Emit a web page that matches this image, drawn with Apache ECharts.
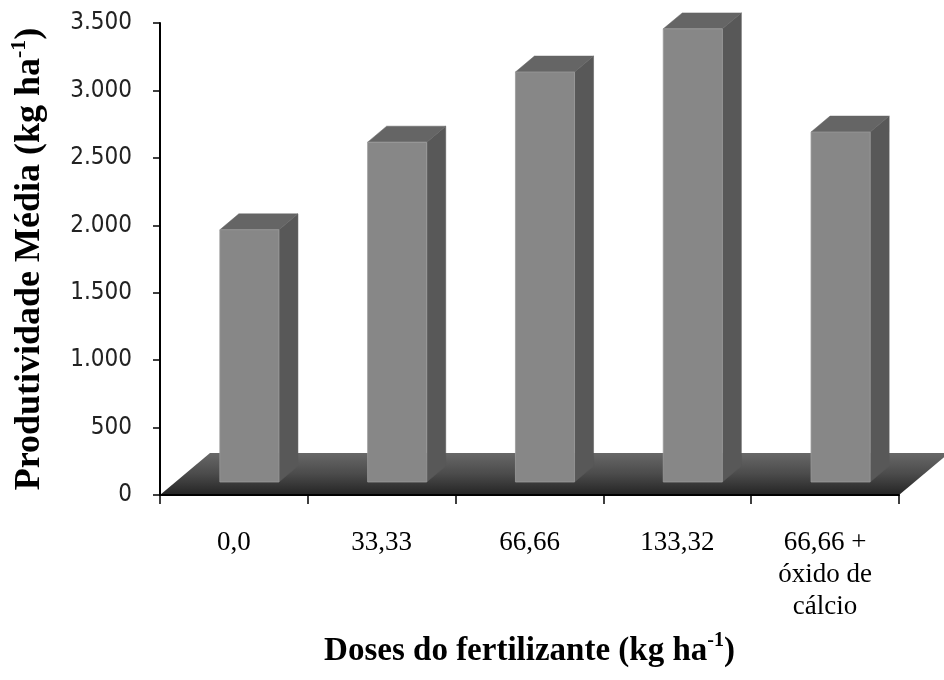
<!DOCTYPE html>
<html>
<head>
<meta charset="utf-8">
<script src="https://cdn.jsdelivr.net/npm/echarts@6/dist/echarts.min.js"></script>
<style>
  html, body { margin: 0; padding: 0; background: #ffffff; }
  #chart { width: 944px; height: 680px; }
</style>
</head>
<body>
<div id="chart"></div>
<script>
// Fertilizer doses (kg/ha) and mean yield (kg/ha)
const categories = ['0,0', '33,33', '66,66', '133,32', '66,66 +\nóxido de\ncálcio'];
const productivity = [1870, 2520, 3040, 3360, 2595];
const yMin = 0;
const yMax = 3500;
const yStep = 500;

// Pseudo-3D look: floor depth and where the columns sit inside it
const FLOOR_DX = 50, FLOOR_DY = -42;
const COL_FRONT = 0.31, COL_BACK = 0.69;
const COL_WIDTH = 0.4; // fraction of the category band

const serif = "'Liberation Serif', 'Times New Roman', serif";
const sansCond = "'DejaVu Sans Condensed', 'DejaVu Sans', sans-serif";

function thousands(v) {
  return String(v).replace(/\B(?=(\d{3})+(?!\d))/g, '.');
}

function renderFloor(params, api) {
  const cs = params.coordSys;
  const y0 = api.coord([0, 0])[1];
  const xl = cs.x, xr = cs.x + cs.width;
  return {
    type: 'polygon',
    shape: { points: [[xl, y0], [xr, y0], [xr + FLOOR_DX, y0 + FLOOR_DY], [xl + FLOOR_DX, y0 + FLOOR_DY]] },
    style: {
      fill: new echarts.graphic.LinearGradient(0, 0, 0, 1, [
        { offset: 0, color: '#686868' },
        { offset: 0.5, color: '#4b4b4b' },
        { offset: 1, color: '#242424' }
      ])
    }
  };
}

function renderColumn(params, api) {
  const i = api.value(0);
  const v = api.value(1);
  const base = api.coord([i, 0]);
  const top = api.coord([i, v]);
  const band = api.size([1, 0])[0];
  const sx = FLOOR_DX * COL_FRONT, sy = FLOOR_DY * COL_FRONT;
  const dx = FLOOR_DX * (COL_BACK - COL_FRONT), dy = FLOOR_DY * (COL_BACK - COL_FRONT);
  const w = band * COL_WIDTH;
  const x0 = base[0] - w / 2 + sx, x1 = x0 + w;
  const yb = base[1] + sy, yt = top[1] + sy;
  return {
    type: 'group',
    children: [
      { type: 'polygon', shape: { points: [[x1, yt], [x1 + dx, yt + dy], [x1 + dx, yb + dy], [x1, yb]] },
        style: { fill: '#585858', stroke: '#585858', lineWidth: 0.5 } },
      { type: 'polygon', shape: { points: [[x0, yt], [x1, yt], [x1 + dx, yt + dy], [x0 + dx, yt + dy]] },
        style: { fill: '#656565', stroke: '#656565', lineWidth: 0.5 } },
      { type: 'rect', shape: { x: x0, y: yt, width: w, height: yb - yt },
        style: { fill: '#878787', stroke: '#9a9a9a', lineWidth: 0.8 } }
    ]
  };
}

const chart = echarts.init(document.getElementById('chart'), null, { renderer: 'canvas' });

chart.setOption({
  backgroundColor: '#ffffff',
  animation: false,
  grid: { left: 160, right: 45, top: 23, bottom: 185, containLabel: false, outerBoundsMode: 'none' },
  xAxis: {
    type: 'category',
    data: categories,
    boundaryGap: true,
    z: 5,
    axisLine: { lineStyle: { color: '#000', width: 2 } },
    axisTick: { show: true, length: 9, lineStyle: { color: '#000', width: 1.5 } },
    axisLabel: {
      interval: 0, margin: 32,
      fontFamily: serif, fontSize: 27, lineHeight: 32, color: '#000'
    },
    splitLine: { show: false },
    name: '{t|Doses do fertilizante (kg ha}{s|-1}{t|)}',
    nameLocation: 'middle',
    nameGap: 136,
    nameTextStyle: {
      rich: {
        t: { fontFamily: serif, fontWeight: 'bold', fontSize: 33, lineHeight: 40, color: '#000' },
        s: { fontFamily: serif, fontWeight: 'bold', fontSize: 20, lineHeight: 24, color: '#000', verticalAlign: 'top' }
      }
    }
  },
  yAxis: {
    type: 'value',
    min: yMin, max: yMax, interval: yStep,
    z: 5,
    axisLine: { show: true, lineStyle: { color: '#000', width: 2 } },
    axisTick: { show: true, length: 7, lineStyle: { color: '#000', width: 1.5 } },
    axisLabel: {
      margin: 28, fontFamily: sansCond, fontSize: 24, color: '#222',
      formatter: thousands
    },
    splitLine: { show: false },
    name: '{t|Produtividade Média (kg ha}{s|-1}{t|)}',
    nameLocation: 'middle',
    nameRotate: 90,
    nameGap: 108,
    nameTextStyle: {
      rich: {
        t: { fontFamily: serif, fontWeight: 'bold', fontSize: 36, lineHeight: 44, color: '#000' },
        s: { fontFamily: serif, fontWeight: 'bold', fontSize: 22, lineHeight: 26, color: '#000', verticalAlign: 'top' }
      }
    }
  },
  series: [
    {
      type: 'custom',
      name: 'floor',
      z: 1,
      clip: false,
      silent: true,
      renderItem: renderFloor,
      data: [0]
    },
    {
      type: 'custom',
      name: 'Produtividade',
      z: 2,
      clip: false,
      renderItem: renderColumn,
      encode: { x: 0, y: 1 },
      data: productivity.map((v, i) => [i, v])
    }
  ]
});
</script>
</body>
</html>
